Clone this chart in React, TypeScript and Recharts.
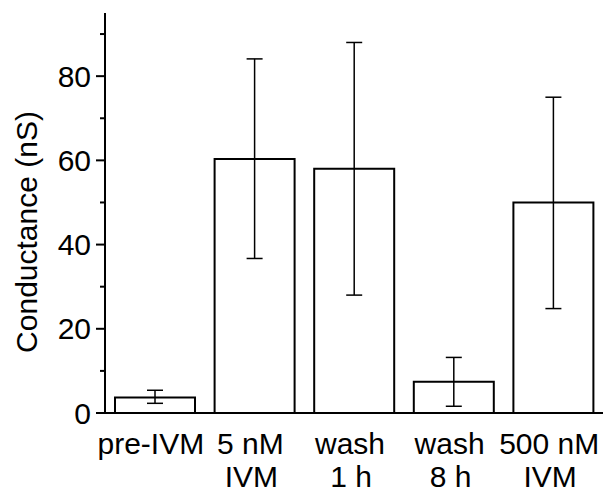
import { BarChart, Bar, XAxis, YAxis, ErrorBar } from "recharts";

// conditions, split over two lines as in the figure
const labelTop = ["pre-IVM", "5 nM", "wash", "wash", "500 nM"];
const labelBottom = ["", "IVM", "1 h", "8 h", "IVM"];

// mean conductance (nS) and the ends of the error bars
const means = [3.7, 60.3, 58.0, 7.4, 50.0];
const lower = [2.3, 36.7, 28.0, 1.6, 24.8];
const upper = [5.4, 84.1, 88.0, 13.2, 75.0];

const yTicks = [0, 10, 20, 30, 40, 50, 60, 70, 80, 90];

const FONT = "'Liberation Sans', Arial, Helvetica, sans-serif";

const data = labelTop.map((name, i) => ({
  name,
  second: labelBottom[i],
  value: means[i],
  err: [means[i] - lower[i], upper[i] - means[i]],
}));

function XTick({ x, y, payload, index }: any) {
  return (
    <g>
      <text x={x - 4} y={y + 41} textAnchor="middle" fontSize={30} fontFamily={FONT} fill="#000">
        {payload.value}
      </text>
      {labelBottom[index] ? (
        <text x={x - 3} y={y + 74} textAnchor="middle" fontSize={30} fontFamily={FONT} fill="#000">
          {labelBottom[index]}
        </text>
      ) : null}
    </g>
  );
}

function YTick({ x, y, payload }: any) {
  const major = payload.value % 20 === 0;
  return (
    <g>
      <line x1={x - (major ? 9 : 5)} x2={x} y1={y} y2={y} stroke="#000" strokeWidth={2} />
      {major && (
        <text x={x - 14} y={y + 10.5} textAnchor="end" fontSize={30} fontFamily={FONT} fill="#000">
          {payload.value}
        </text>
      )}
    </g>
  );
}

export default function App() {
  return (
    <div style={{ position: "absolute", left: 0, top: 0, background: "#fff" }}>
      <BarChart
        width={611}
        height={494}
        data={data}
        margin={{ top: 13, right: 8, left: 0, bottom: 0 }}
        barSize={80}
      >
        <XAxis
          dataKey="name"
          height={81}
          axisLine={{ stroke: "#000", strokeWidth: 2 }}
          tickLine={false}
          tickSize={0}
          tickMargin={0}
          interval={0}
          tick={<XTick />}
        />
        <YAxis
          width={105}
          domain={[0, 95]}
          ticks={yTicks}
          interval={0}
          allowDataOverflow
          axisLine={{ stroke: "#000", strokeWidth: 2 }}
          tickLine={false}
          tickSize={0}
          tickMargin={0}
          tick={<YTick />}
          label={{
            content: () => (
              <text
                x={37}
                y={232}
                transform="rotate(-90 37 232)"
                textAnchor="middle"
                fontSize={30}
                fontFamily={FONT}
                fill="#000"
              >
                Conductance (nS)
              </text>
            ),
          }}
        />
        <Bar dataKey="value" fill="#fff" stroke="#000" strokeWidth={2} isAnimationActive={false}>
          <ErrorBar dataKey="err" width={8} stroke="#000" strokeWidth={1.5} />
        </Bar>
      </BarChart>
    </div>
  );
}
